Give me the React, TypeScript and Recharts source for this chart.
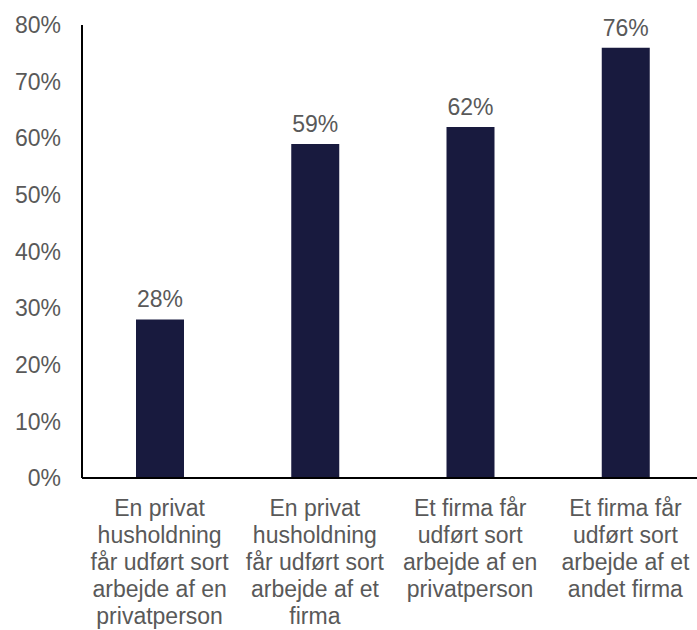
import React from 'react';
import { BarChart, Bar, XAxis, YAxis, LabelList } from 'recharts';

// category labels, line breaks as in the original chart
const categories = [
  'En privat\nhusholdning\nfår udført sort\narbejde af en\nprivatperson',
  'En privat\nhusholdning\nfår udført sort\narbejde af et\nfirma',
  'Et firma får\nudført sort\narbejde af en\nprivatperson',
  'Et firma får\nudført sort\narbejde af et\nandet firma',
];
const shares = [0.28, 0.59, 0.62, 0.76];
const yTicks = [0, 0.1, 0.2, 0.3, 0.4, 0.5, 0.6, 0.7, 0.8];

const data = categories.map((name, i) => ({ name, value: shares[i] }));

const FONT = 'Arial, "Liberation Sans", sans-serif';
const TEXT = '#595959';
const BAR = '#181a3e';
const SIZE = 23;

const pct = (v: number) => `${Math.round(v * 100)}%`;

const CategoryTick = ({ x, y, payload }: any) => {
  const lines = String(payload.value).split('\n');
  return (
    <text x={x} y={y} textAnchor="middle" fill={TEXT} fontSize={SIZE} fontFamily={FONT}>
      {lines.map((l, i) => (
        <tspan key={i} x={x} dy={i === 0 ? 30 : 27}>
          {l}
        </tspan>
      ))}
    </text>
  );
};

export default function App() {
  return (
    <div style={{ position: 'absolute', left: 0, top: 0, background: '#fff' }}>
      <BarChart
        width={697}
        height={630}
        data={data}
        margin={{ top: 25, right: -6, bottom: 0, left: 0 }}
      >
        <XAxis
          dataKey="name"
          interval={0}
          height={152}
          tickLine={false}
          axisLine={{ stroke: '#000', strokeWidth: 2 }}
          tick={<CategoryTick />}
        />
        <YAxis
          width={82}
          domain={[0, 0.8]}
          ticks={yTicks}
          tickFormatter={pct}
          tickLine={false}
          axisLine={{ stroke: '#000', strokeWidth: 2 }}
          tickMargin={15}
          tick={{ fill: TEXT, fontSize: SIZE, fontFamily: FONT }}
        />
        <Bar dataKey="value" fill={BAR} barSize={48} isAnimationActive={false}>
          <LabelList
            dataKey="value"
            position="top"
            offset={12}
            formatter={(v: any) => pct(Number(v))}
            fill={TEXT}
            fontSize={SIZE}
            fontFamily={FONT}
          />
        </Bar>
      </BarChart>
    </div>
  );
}
